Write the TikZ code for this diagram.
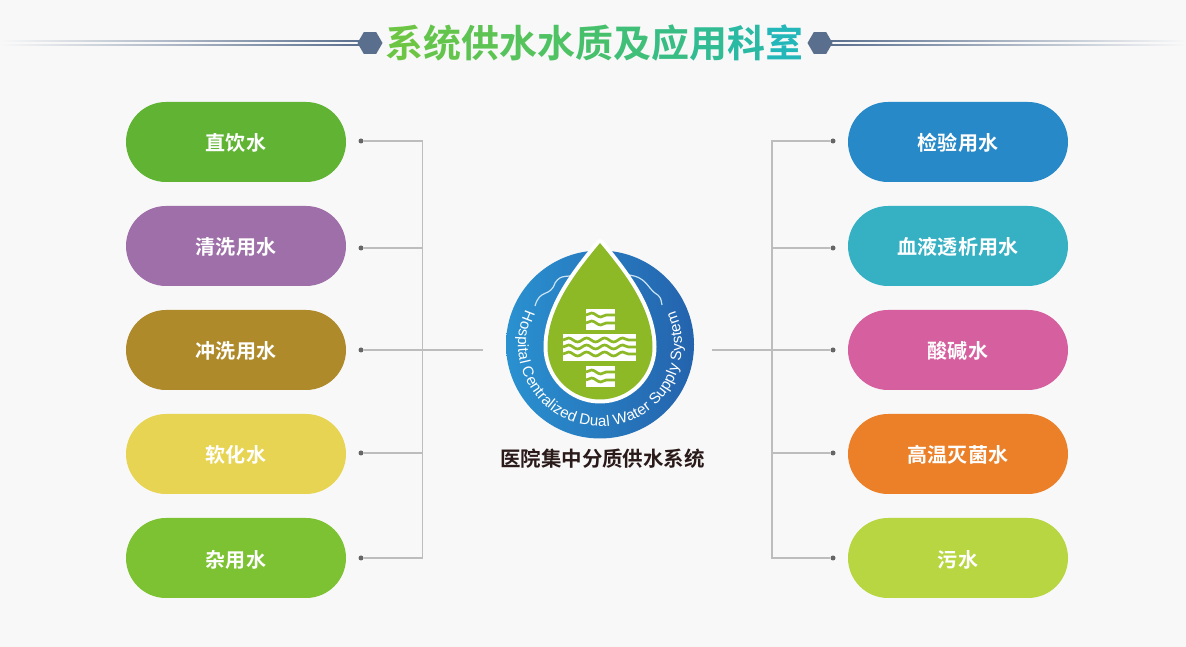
\documentclass[tikz,border=0pt]{standalone}
\usepackage{fontspec}
\usetikzlibrary{shapes.geometric,decorations.text,decorations.pathmorphing}
\setmainfont{Noto Sans CJK SC}[BoldFont={* Bold}]
\newfontfamily\logofont{Liberation Sans}

\definecolor{pagebg}{HTML}{F8F8F8}
\definecolor{hexcol}{HTML}{5A6F8E}
\definecolor{linecol}{HTML}{BDBDBD}
\definecolor{dotcol}{HTML}{666666}
\definecolor{dropgreen}{HTML}{8DB927}
\definecolor{ringl}{HTML}{2A91D0}
\definecolor{ringr}{HTML}{2463AD}
\definecolor{capcol}{HTML}{2A1A1A}
\definecolor{zhiyincol}{HTML}{60B333}
\definecolor{qingxicol}{HTML}{9E6FA8}
\definecolor{chongxicol}{HTML}{AF8A2A}
\definecolor{ruanhuacol}{HTML}{E8D453}
\definecolor{zayongcol}{HTML}{7CC232}
\definecolor{jianyancol}{HTML}{2889C8}
\definecolor{touxicol}{HTML}{36B1C3}
\definecolor{suanjiancol}{HTML}{D55F9F}
\definecolor{gaowencol}{HTML}{EC8029}
\definecolor{wushuicol}{HTML}{B7D642}

\tikzset{
    pill/.style={minimum width=2.2cm,minimum height=0.8cm,rounded corners=0.4cm,inner sep=0pt,
        text height=0.19cm,text depth=0.01cm,
        text=white,font=\fontsize{5.7}{6}\selectfont\bfseries},
    dot/.style={circle,fill=dotcol,minimum size=0.05cm,inner sep=0pt},
    conn/.style={draw=linecol,line width=0.018cm},
    hexa/.style={regular polygon,regular polygon sides=6,fill=hexcol,minimum size=0.25cm,inner sep=0pt},
    wave/.style={draw=dropgreen,line width=0.027cm,decorate,decoration={snake,amplitude=0.02cm,segment length=0.18cm}},
    crack/.style={draw=white!75!ringl,line width=0.012cm},
    fadel/.style={left color=pagebg,middle color=hexcol,right color=hexcol},
    fader/.style={left color=hexcol,middle color=hexcol,right color=pagebg}
}

\begin{document}
\begin{tikzpicture}
    \fill[pagebg] (0,0) rectangle (11.86,-6.47);
    \useasboundingbox (0,0) rectangle (11.86,-6.47);

    % heading
    \shade[fadel] (0,-0.408) rectangle (3.62,-0.42);
    \shade[fadel] (0,-0.448) rectangle (3.62,-0.46);
    \shade[fader] (8.28,-0.408) rectangle (11.86,-0.42);
    \shade[fader] (8.28,-0.448) rectangle (11.86,-0.46);
    \node[hexa] (hexl) at (3.70,-0.43) {};
    \node[hexa] (hexr) at (8.20,-0.43) {};
    \node[font=\fontsize{10.8}{11}\selectfont\bfseries,inner sep=0pt] (heading) at (5.945,-0.43) {%
        \textcolor[HTML]{6CC644}{系}\textcolor[HTML]{64C54C}{统}\textcolor[HTML]{5DC454}{供}%
        \textcolor[HTML]{56C35C}{水}\textcolor[HTML]{4FC264}{水}\textcolor[HTML]{47C06C}{质}%
        \textcolor[HTML]{40BF78}{及}\textcolor[HTML]{38BE84}{应}\textcolor[HTML]{31BC94}{用}%
        \textcolor[HTML]{2ABAA4}{科}\textcolor[HTML]{24B7BA}{室}};

    % left column
    \node[pill,fill=zhiyincol] (zhiyin) at (2.36,-1.42) {直饮水};
    \node[pill,fill=qingxicol] (qingxi) at (2.36,-2.46) {清洗用水};
    \node[pill,fill=chongxicol] (chongxi) at (2.36,-3.50) {冲洗用水};
    \node[pill,fill=ruanhuacol] (ruanhua) at (2.36,-4.54) {软化水};
    \node[pill,fill=zayongcol] (zayong) at (2.36,-5.58) {杂用水};

    % right column
    \node[pill,fill=jianyancol] (jianyan) at (9.58,-1.42) {检验用水};
    \node[pill,fill=touxicol] (touxi) at (9.58,-2.46) {血液透析用水};
    \node[pill,fill=suanjiancol] (suanjian) at (9.58,-3.50) {酸碱水};
    \node[pill,fill=gaowencol] (gaowen) at (9.58,-4.54) {高温灭菌水};
    \node[pill,fill=wushuicol] (wushui) at (9.58,-5.58) {污水};

    % left connectors
    \node[dot] (dl1) at (3.61,-1.41) {};
    \node[dot] (dl2) at (3.61,-2.48) {};
    \node[dot] (dl3) at (3.61,-3.50) {};
    \node[dot] (dl4) at (3.61,-4.53) {};
    \node[dot] (dl5) at (3.61,-5.58) {};
    \coordinate (spinel) at (4.225,-3.50);
    \coordinate (endl) at (4.83,-3.50);
    \draw[conn] (dl1) -| (spinel);
    \draw[conn] (dl5) -| (spinel);
    \draw[conn] (dl2) -- (dl2 -| spinel);
    \draw[conn] (dl4) -- (dl4 -| spinel);
    \draw[conn] (dl3) -- (endl);

    % right connectors
    \node[dot] (dr1) at (8.33,-1.41) {};
    \node[dot] (dr2) at (8.33,-2.48) {};
    \node[dot] (dr3) at (8.33,-3.50) {};
    \node[dot] (dr4) at (8.33,-4.53) {};
    \node[dot] (dr5) at (8.33,-5.58) {};
    \coordinate (spiner) at (7.72,-3.50);
    \coordinate (endr) at (7.12,-3.50);
    \draw[conn] (dr1) -| (spiner);
    \draw[conn] (dr5) -| (spiner);
    \draw[conn] (dr2) -- (dr2 -| spiner);
    \draw[conn] (dr4) -- (dr4 -| spiner);
    \draw[conn] (dr3) -- (endr);

    % logo
    \shade[left color=ringl,right color=ringr] (6,-3.445) circle (0.94);
    \path[decorate,decoration={text along path,text align={fit to path},
        text={|\logofont\fontsize{4.3}{5}\selectfont\color{white}|Hospital Centralized Dual Water Supply System}}]
        (6,-3.445) ++(155:0.82) arc[start angle=155,end angle=384,radius=0.82];
    \draw[crack] (5.35,-3.06) .. controls (5.40,-2.88) and (5.50,-2.98) .. (5.55,-2.83) .. controls (5.62,-2.72) and (5.68,-2.80) .. (5.80,-2.72);
    \draw[crack] (6.20,-2.72) .. controls (6.32,-2.78) and (6.38,-2.72) .. (6.50,-2.88) .. controls (6.58,-2.98) and (6.60,-2.92) .. (6.62,-3.05);
    \fill[white,draw=white,line width=0.08cm,line join=round] (6,-2.43) .. controls (5.76,-2.72) and (5.475,-3.08) .. (5.475,-3.47)
        arc[start angle=180,end angle=360,radius=0.525] .. controls (6.525,-3.08) and (6.24,-2.72) .. cycle;
    \fill[dropgreen] (6,-2.43) .. controls (5.76,-2.72) and (5.475,-3.08) .. (5.475,-3.47)
        arc[start angle=180,end angle=360,radius=0.525] .. controls (6.525,-3.08) and (6.24,-2.72) .. cycle;
    \fill[white] (5.86,-3.09) rectangle (6.15,-3.30);
    \fill[white] (5.63,-3.34) rectangle (6.36,-3.61);
    \fill[white] (5.86,-3.66) rectangle (6.15,-3.87);
    \draw[wave] (5.86,-3.15) -- (6.15,-3.15);
    \draw[wave] (5.86,-3.23) -- (6.15,-3.23);
    \draw[wave] (5.63,-3.40) -- (6.36,-3.40);
    \draw[wave] (5.63,-3.47) -- (6.36,-3.47);
    \draw[wave] (5.63,-3.54) -- (6.36,-3.54);
    \draw[wave] (5.86,-3.72) -- (6.15,-3.72);
    \draw[wave] (5.86,-3.80) -- (6.15,-3.80);
    \node[text=capcol,font=\fontsize{5.83}{6}\selectfont\bfseries,inner sep=0pt] (caption) at (6.025,-4.59) {医院集中分质供水系统};
\end{tikzpicture}
\end{document}
